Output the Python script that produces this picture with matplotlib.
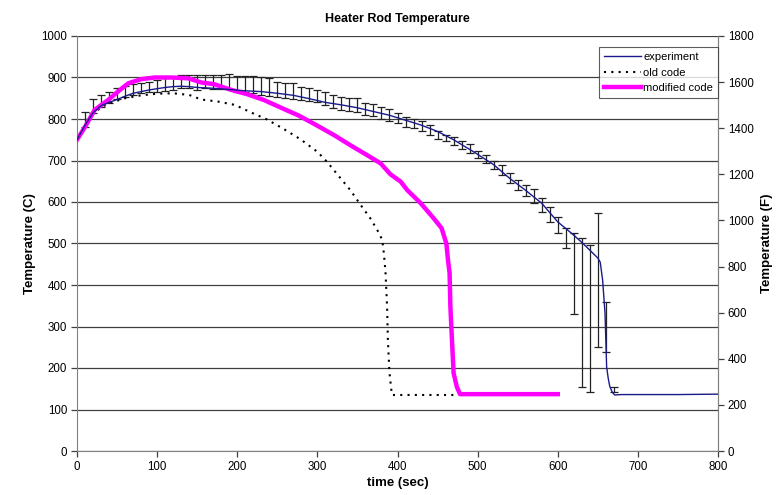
import numpy as np
import matplotlib
matplotlib.use("Agg")
import matplotlib.pyplot as plt

plt.rcParams['font.family'] = ['Liberation Sans', 'DejaVu Sans']

# ---- data ----
exp_t = [0, 10, 20, 30, 40, 50, 60, 70, 80, 90, 100, 110, 120, 130, 140, 150, 170, 190,
         210, 230, 250, 270, 290, 310, 330, 350, 370, 390, 410, 430, 450, 470, 495, 520,
         540, 560, 580, 600, 612, 620, 631, 640, 650, 653, 656, 659, 661, 663, 665, 668,
         671, 680, 700, 750, 800]
exp_T = [750, 785, 815, 832, 840, 847, 855, 862, 866, 870, 873, 876, 878, 879, 878, 876, 874, 871,
         868, 866, 862, 857, 849, 840, 834, 827, 818, 809, 797, 785, 770, 750, 721, 690,
         657, 628, 597, 552, 533, 520, 501, 484, 465, 455, 412, 332, 203, 175, 155, 142,
         135, 136, 136, 136, 137]

err_t = [10, 20, 30, 40, 50, 60, 70, 80, 90, 100, 110, 120, 130, 140, 150, 160, 170, 180,
         190, 200, 210, 220, 230, 240, 250, 260, 270, 280, 290, 300, 310, 320, 330, 340,
         350, 360, 370, 380, 390, 400, 410, 420, 430, 440, 450, 460, 470, 480, 490, 500,
         510, 520, 530, 540, 550, 560, 570, 580, 590, 600, 610, 620, 630, 640, 650, 660, 670]
err_low = [781, 814, 830, 838, 847, 854, 858, 862, 866, 866, 868, 871, 874, 874, 871, 874, 873, 873,
           873, 866, 866, 862, 858, 855, 852, 850, 847, 846, 844, 842, 834, 826, 822, 820,
           818, 810, 807, 801, 796, 790, 781, 778, 770, 761, 751, 748, 737, 727, 717, 705,
           693, 679, 665, 646, 629, 614, 598, 577, 553, 525, 489, 330, 155, 142, 251, 239, 142]
err_high = [818, 847, 858, 866, 874, 880, 884, 887, 890, 894, 898, 902, 906, 906, 906, 906, 906, 906,
            908, 904, 904, 904, 900, 898, 890, 887, 886, 878, 874, 870, 864, 858, 854, 850,
            850, 839, 836, 828, 823, 815, 806, 799, 794, 786, 772, 761, 757, 748, 740, 724,
            713, 700, 689, 671, 653, 641, 631, 609, 587, 565, 537, 525, 513, 496, 573, 359, 154]

old_t = [0, 10, 20, 30, 40, 60, 80, 100, 120, 140, 155, 176, 197, 217, 237, 258, 279, 300,
         312, 329, 341, 354, 366, 377, 381, 383, 385, 387, 388, 390, 393, 400, 420, 440, 460, 476]
old_T = [750, 782, 812, 828, 838, 850, 857, 861, 862, 858, 847, 842, 834, 816, 799, 776, 751, 721,
         697, 657, 629, 593, 561, 525, 508, 476, 432, 348, 267, 188, 135, 135, 135, 135, 135, 135]

mod_t = [0, 10, 22, 39, 51, 64, 80, 97, 118, 139, 155, 171, 191, 212, 233, 256, 277, 298,
         321, 341, 362, 379, 391, 404, 412, 429, 445, 455, 461, 463, 465, 466, 468, 470, 474,
         478, 500, 550, 600]
mod_T = [750, 781, 822, 846, 866, 886, 896, 900, 900, 898, 888, 884, 871, 860, 846, 826, 808, 786,
         761, 737, 713, 693, 667, 649, 629, 597, 561, 537, 500, 460, 429, 348, 267, 188, 155,
         137, 137, 137, 137]

x_ticks = [0, 100, 200, 300, 400, 500, 600, 700, 800]
yC_ticks = [0, 100, 200, 300, 400, 500, 600, 700, 800, 900, 1000]
yF_ticks = [0, 200, 400, 600, 800, 1000, 1200, 1400, 1600, 1800]

# ---- figure ----
fig = plt.figure(figsize=(7.77, 4.95), dpi=100)
ax = fig.add_axes([77 / 777, 1 - 451 / 495, (718 - 77) / 777, (451 - 36) / 495])

ax.set_xlim(0, 800)
ax.set_ylim(0, 1000)
ax.set_xticks(x_ticks)
ax.set_yticks(yC_ticks)
ax.yaxis.grid(True, color='#404040', linewidth=0.9)
ax.set_axisbelow(True)

ax.spines['top'].set_visible(False)
ax.spines['left'].set_color('#808080')
ax.spines['bottom'].set_color('#808080')
ax.spines['right'].set_color('#808080')
ax.tick_params(axis='both', direction='out', length=4, width=0.9, color='#404040',
               labelsize=8.3, pad=3)

err_c = [(lo + hi) / 2 for lo, hi in zip(err_low, err_high)]
err_h = [(hi - lo) / 2 for lo, hi in zip(err_low, err_high)]
ax.errorbar(err_t, err_c, yerr=err_h, fmt='none', ecolor='#222222', elinewidth=0.9,
            capsize=3, capthick=0.9, zorder=2)

ax.plot(exp_t, exp_T, color='#1a1a8c', linewidth=1.0, label='experiment', zorder=4)
ax.plot(old_t, old_T, color='black', linewidth=1.5, linestyle=(0, (1, 2.5)),
        label='old code', zorder=3)
ax.plot(mod_t, mod_T, color='#ff00ff', linewidth=3.2, label='modified code', zorder=3)

ax.set_title('Heater Rod Temperature', fontsize=9, fontweight='bold', pad=10)
ax.set_xlabel('time (sec)', fontsize=9.5, fontweight='bold', labelpad=3)
ax.set_ylabel('Temperature (C)', fontsize=9.5, fontweight='bold', labelpad=4)

ax2 = ax.twinx()
ax2.set_ylim(0, 1800)
ax2.set_yticks(yF_ticks)
ax2.spines['top'].set_visible(False)
ax2.spines['left'].set_visible(False)
ax2.spines['bottom'].set_visible(False)
ax2.spines['right'].set_color('#808080')
ax2.tick_params(axis='y', direction='out', length=4, width=0.9, color='#404040',
                labelsize=8.3, pad=3)
ax2.set_ylabel('Temperature (F)', fontsize=9.5, fontweight='bold', labelpad=5)

leg = ax2.legend(*ax.get_legend_handles_labels(), loc='upper right',
                 bbox_to_anchor=(1.0, 0.973), fontsize=8, frameon=True, fancybox=False,
                 handlelength=3.3, handletextpad=0.2, borderpad=0.45, labelspacing=0.5,
                 borderaxespad=0.0)
leg.get_frame().set_edgecolor('#333333')
leg.get_frame().set_linewidth(0.8)

fig.savefig('out.png', dpi=100)
